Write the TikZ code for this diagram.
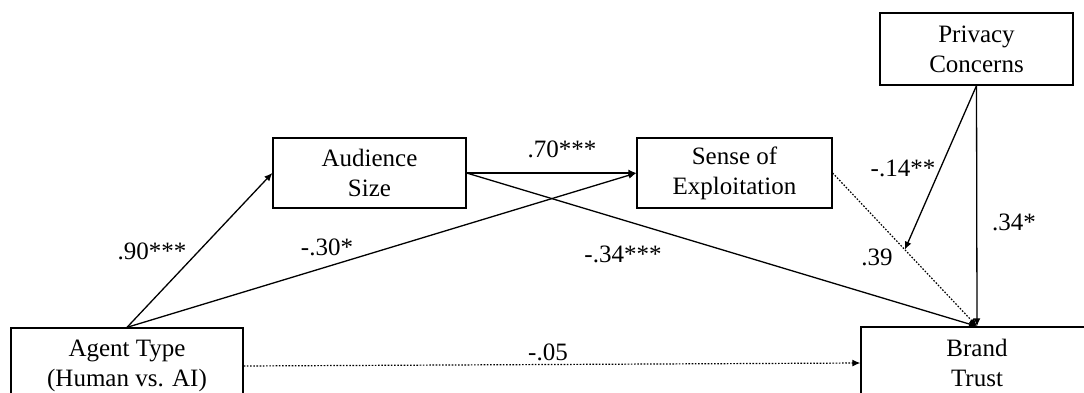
\documentclass[tikz,border=0pt]{standalone}
\usepackage{fontspec}
\setmainfont{Liberation Serif}
\usetikzlibrary{arrows.meta,calc}
\begin{document}
\begin{tikzpicture}[x=1pt,y=-1pt,
  box/.style={draw, line width=1.3pt, align=center, inner sep=0pt,
    font=\fontsize{25}{30}\selectfont},
  lbl/.style={font=\fontsize{25}{30}\selectfont, inner sep=0pt},
  conn/.style={line width=1.3pt, -{Latex[length=8pt,width=7pt]}},
  dconn/.style={line width=1.2pt, dash pattern=on 1.6pt off 1.6pt, -{Latex[length=8pt,width=7pt]}}]
\useasboundingbox (0,0) rectangle (1084,393);
\clip (0,0) rectangle (1084,393);
\node[box, minimum width=232pt, minimum height=76pt] (agent) at (127,366) {Agent Type\\(Human vs. AI)};
\node[box, minimum width=193pt, minimum height=70pt] (aud) at (369.5,173) {Audience\\Size};
\node[box, minimum width=195pt, minimum height=70pt] (sense) at (734.5,173) {Sense of\\Exploitation};
\node[box, minimum width=193pt, minimum height=72pt] (priv) at (976.5,49) {Privacy\\Concerns};
\node[box, minimum width=232pt, minimum height=72pt] (brand) at (977,363) {Brand\\Trust};
\coordinate (mod) at ($(sense.east)!0.5!(brand.north)$);
\draw[conn] (agent.north) -- (aud.west);
\draw[conn] (agent.north) -- (sense.west);
\draw[conn] (aud.east) -- (sense.west);
\draw[conn] (aud.east) -- (brand.north);
\draw[dconn] (sense.east) -- (brand.north);
\draw[conn] (priv.south) -- (brand.north);
\draw[conn] (priv.south) -- (mod);
\draw[dconn] (agent.east) -- (brand.west);
\node[lbl] (l1) at (152,251) {.90***};
\node[lbl] (l2) at (327,247) {-.30*};
\node[lbl] (l3) at (562,149) {.70***};
\node[lbl] (l4) at (623,254) {-.34***};
\node[lbl] (l5) at (903,168) {-.14**};
\node[lbl] (l6) at (877,257) {.39};
\node[lbl] (l7) at (1014,222) {.34*};
\node[lbl] (l8) at (548,352) {-.05};
\end{tikzpicture}
\end{document}
